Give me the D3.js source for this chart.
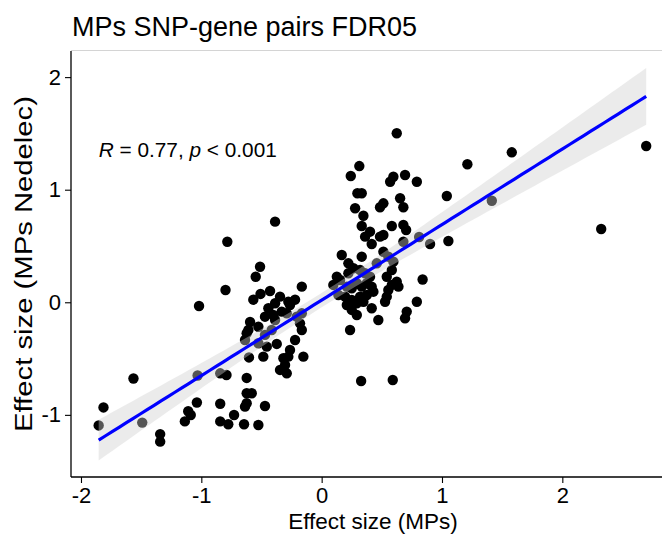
<!DOCTYPE html>
<html>
<head>
<meta charset="utf-8">
<script src="https://cdn.jsdelivr.net/npm/d3@7"></script>
<style>
  html, body { margin: 0; padding: 0; background: #fff; }
  svg { display: block; font-family: "Liberation Sans", Arial, sans-serif; }
</style>
</head>
<body>
<svg id="chart" width="662" height="535"></svg>
<script>
// ---- data ----
const xValues = [
  -1.853, -1.813, -1.564, -1.491, -1.342, -1.342, -1.019, -1.031, -1.037, -1.109,
  -1.088, -1.137, -0.843, -0.791, -0.843, -0.843, -0.776, -0.728, -0.623, -0.623,
  -0.581, -0.637, -0.623, -0.471, -0.645, -0.526, -0.604, -0.346, -0.290, -0.784,
  -0.387, -0.799, -0.512, -0.548, -0.568, -0.508, -0.429, -0.346, -0.221, -0.165,
  -0.263, -0.277, -0.387, -0.443, -0.332, -0.290, -0.402, -0.471, -0.207, -0.387,
  -0.595, -0.526, -0.609, -0.415, -0.165, -0.180, -0.165, -0.623, -0.637, -0.471,
  -0.221, -0.526, -0.456, -0.373, -0.485, -0.318, -0.263, -0.277, -0.152, -0.304,
  0.624, 0.313, 0.242, 0.596, 0.569, 0.693, 0.791, 0.297, 0.333, 1.040,
  0.278, 0.513, 0.485, 0.652, 0.679, 0.347, 0.333, 0.583, 0.679, 0.702,
  0.402, 0.361, 0.485, 0.513, 0.416, 0.679, 0.810, 0.901, 1.053, 0.167,
  0.333, 0.222, 0.513, 0.554, 0.596, 0.583, 0.458, 0.839, 0.541, 0.624,
  0.638, 0.583, 0.554, 0.153, 0.222, 0.264, 0.319, 0.361, 0.402, 0.209,
  0.250, 0.292, 0.333, 0.375, 0.416, 0.195, 0.250, 0.319, 0.375, 0.430,
  0.209, 0.292, 0.347, 0.416, 0.541, 0.527, 0.707, 0.693, 0.791, 0.471,
  0.236, 0.126, 0.097, 0.139, 0.250, 0.292, 0.328, 0.591, 1.211, 1.580,
  1.414, 2.697, 2.323
];
const yValues = [
  -1.094, -0.934, -0.677, -1.069, -1.171, -1.238, -0.033, -0.650, -0.890, -0.968,
  -1.001, -1.058, -0.631, -0.646, -0.901, -1.058, -1.083, -1.001, -0.672, -0.808,
  -0.808, -0.927, -0.897, -0.921, -1.083, -1.090, -0.490, -0.601, -0.631, 0.538,
  0.716, 0.109, 0.316, 0.227, 0.023, 0.074, 0.100, 0.050, 0.023, 0.139,
  -0.024, 0.005, -0.009, -0.053, -0.083, -0.098, -0.113, -0.128, -0.128, -0.157,
  -0.175, -0.217, -0.246, -0.246, -0.246, -0.187, -0.098, -0.275, -0.335, -0.290,
  -0.335, -0.364, -0.394, -0.370, -0.483, -0.497, -0.424, -0.483, -0.483, -0.557,
  1.501, 1.210, 1.122, 1.115, 1.071, 1.131, 1.071, 0.968, 0.968, 0.944,
  0.835, 0.879, 0.844, 0.924, 0.844, 0.769, 0.678, 0.678, 0.687, 0.642,
  0.627, 0.583, 0.583, 0.598, 0.518, 0.538, 0.580, 0.518, 0.544, 0.420,
  0.405, 0.346, 0.449, 0.405, 0.361, 0.287, 0.346, 0.202, 0.227, 0.183,
  0.139, 0.154, 0.109, 0.198, 0.258, 0.302, 0.287, 0.258, 0.227, 0.139,
  0.124, 0.169, 0.139, 0.169, 0.139, 0.050, 0.020, 0.050, 0.065, 0.094,
  -0.024, -0.009, 0.005, -0.053, 0.050, 0.005, -0.083, -0.142, 0.005, -0.157,
  -0.246, 0.227, 0.154, 0.065, -0.068, -0.113, -0.699, -0.690, 1.226, 1.332,
  0.902, 1.388, 0.651
];
const xTicks = [-2, -1, 0, 1, 2];
const yTicks = [-1, 0, 1, 2];
const titleText = "MPs SNP-gene pairs FDR05";
const xLabel = "Effect size (MPs)";
const yLabel = "Effect size (MPs Nedelec)";
const corrR = "0.77";
const corrP = "0.001";
const xDomain = [-2.083, 2.928];
const yDomain = [-1.552, 2.232];
const tCrit = 1.976;

(function () {
  const svg = d3.select("#chart");
  const W = 662, H = 535;
  const pL = 71, pR = 674, pT = 51, pB = 477;

  const x = d3.scaleLinear().domain(xDomain).range([pL, pR]);
  const y = d3.scaleLinear().domain(yDomain).range([pB, pT]);

  svg.append("rect").attr("width", W).attr("height", H).attr("fill", "#fff");

  svg.append("defs").append("clipPath").attr("id", "panel")
    .append("rect").attr("x", pL).attr("y", pT).attr("width", pR - pL).attr("height", pB - pT);

  // faint top panel edge
  svg.append("line").attr("x1", pL).attr("x2", W).attr("y1", pT - 0.5).attr("y2", pT - 0.5)
    .attr("stroke", "#d4d4d4").attr("stroke-width", 1);

  const data = xValues.map((v, i) => ({ x: v, y: yValues[i] }));

  // linear fit with confidence band
  const n = data.length;
  const xbar = d3.mean(xValues), ybar = d3.mean(yValues);
  let sxx = 0, sxy = 0;
  data.forEach(d => { sxx += (d.x - xbar) ** 2; sxy += (d.x - xbar) * (d.y - ybar); });
  const slope = sxy / sxx, intercept = ybar - slope * xbar;
  let sse = 0;
  data.forEach(d => { sse += (d.y - (intercept + slope * d.x)) ** 2; });
  const sres = Math.sqrt(sse / (n - 2));
  const [xmin, xmax] = d3.extent(xValues);
  const fit = d3.range(80).map(i => {
    const xv = xmin + (xmax - xmin) * i / 79;
    const yv = intercept + slope * xv;
    const se = sres * Math.sqrt(1 / n + (xv - xbar) ** 2 / sxx);
    return { x: xv, y: yv, lo: yv - tCrit * se, hi: yv + tCrit * se };
  });

  const g = svg.append("g").attr("clip-path", "url(#panel)");

  g.selectAll("circle").data(data).enter().append("circle")
    .attr("cx", d => x(d.x)).attr("cy", d => y(d.y)).attr("r", 5.2)
    .attr("fill", "#000");

  g.append("path").datum(fit)
    .attr("d", d3.area().x(d => x(d.x)).y0(d => y(d.lo)).y1(d => y(d.hi)))
    .attr("fill", "#cfcfcf").attr("fill-opacity", 0.41);

  g.append("path").datum(fit)
    .attr("d", d3.line().x(d => x(d.x)).y(d => y(d.y)))
    .attr("fill", "none").attr("stroke", "#0000ff").attr("stroke-width", 3.2);

  // axes
  const xAxis = svg.append("g").attr("transform", `translate(0,${pB})`)
    .call(d3.axisBottom(x).tickValues(xTicks).tickSize(6).tickPadding(4));
  xAxis.select(".domain").attr("d", `M${pL},0H${W}`).attr("stroke", "#000").attr("stroke-width", 1.3);
  xAxis.selectAll(".tick line").attr("stroke", "#000").attr("stroke-width", 1.1);
  xAxis.selectAll(".tick text").attr("font-size", 22).attr("fill", "#000")
    .text(d => d < 0 ? "-" + Math.abs(d) : d);

  const yAxis = svg.append("g").attr("transform", `translate(${pL},0)`)
    .call(d3.axisLeft(y).tickValues(yTicks).tickSize(6).tickPadding(4));
  yAxis.select(".domain").attr("d", `M0,${pT}V${pB}`).attr("stroke", "#000").attr("stroke-width", 1.3);
  yAxis.selectAll(".tick line").attr("stroke", "#000").attr("stroke-width", 1.1);
  yAxis.selectAll(".tick text").attr("font-size", 22).attr("fill", "#000")
    .text(d => d < 0 ? "-" + Math.abs(d) : d);

  // titles
  svg.append("text").attr("x", 72).attr("y", 36).attr("font-size", 27).attr("fill", "#000")
    .text(titleText);

  svg.append("text").attr("x", 373).attr("y", 529).attr("text-anchor", "middle")
    .attr("font-size", 22.5).attr("fill", "#000").text(xLabel);

  svg.append("text").attr("transform", `translate(32,${(pT + pB) / 2}) rotate(-90)`)
    .attr("text-anchor", "middle").attr("font-size", 23)
    .attr("textLength", 336).attr("lengthAdjust", "spacingAndGlyphs")
    .attr("fill", "#000").text(yLabel);

  // correlation label
  const lab = svg.append("text").attr("x", x(xmin)).attr("y", 157).attr("font-size", 20.8).attr("fill", "#000");
  lab.append("tspan").attr("font-style", "italic").text("R");
  lab.append("tspan").text(` = ${corrR}, `);
  lab.append("tspan").attr("font-style", "italic").text("p");
  lab.append("tspan").text(` < ${corrP}`);
})();
</script>
</body>
</html>
